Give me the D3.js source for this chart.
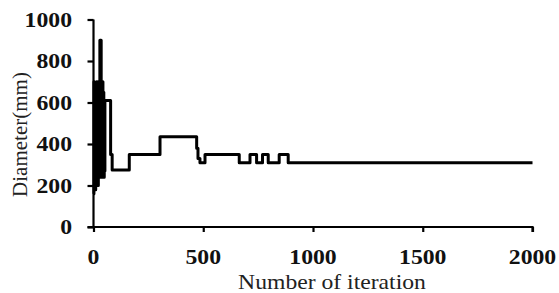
<!DOCTYPE html>
<html>
<head>
<meta charset="utf-8">
<script src="https://cdn.jsdelivr.net/npm/d3@7"></script>
<style>
  html, body { margin: 0; padding: 0; background: #fff; }
  svg { display: block; }
</style>
</head>
<body>
<svg id="chart" width="559" height="293"></svg>
<script>
// Data: iteration at which the diameter changes, and the diameter (mm) from there on
const iteration = [0, 2, 4, 6, 8, 10, 12, 14, 16, 18, 20, 22, 24, 26, 28, 29, 31, 33, 35, 37, 39, 41, 43, 45, 47, 49, 51, 52,
                   78, 85, 163, 303, 470, 476, 485, 508, 664, 713, 743, 770, 796, 846, 887, 2000];
const diameter  = [160, 700, 220, 690, 180, 640, 300, 700, 250, 560, 200, 700, 280, 620, 240, 900, 300, 900, 260, 680, 240, 700, 300, 650, 240, 560, 270, 610,
                   350, 275, 350, 435, 380, 330, 310, 350, 310, 350, 310, 350, 310, 350, 310, 310];
const xTicks = [0, 500, 1000, 1500, 2000];
const yTicks = [0, 200, 400, 600, 800, 1000];
const xTitle = "Number of iteration";
const yTitle = "Diameter(mm)";

const svg = d3.select("#chart");
const x = d3.scaleLinear().domain([0, 2000]).range([93.5, 532.5]);
const y = d3.scaleLinear().domain([0, 1000]).range([227, 19.5]);
const stretch = 1.13;
const tickFont = "'Liberation Serif', 'Times New Roman', serif";

// Y axis
const yAxis = svg.append("g").attr("transform", `translate(${x(0)},0)`)
  .call(d3.axisLeft(y).tickValues(yTicks).tickSize(6).tickFormat(""));
// X axis
const xAxis = svg.append("g").attr("transform", `translate(0,${y(0)})`)
  .call(d3.axisBottom(x).tickValues(xTicks).tickSize(5).tickFormat(""));
[yAxis, xAxis].forEach(g => {
  g.select(".domain").attr("stroke", "#000").attr("stroke-width", 2.2);
  g.selectAll(".tick line").attr("stroke", "#000").attr("stroke-width", 2.2);
});
xAxis.select(".domain").attr("d", `M${x(0)-6},0H${x(2000)}V5`);
yAxis.select(".domain").attr("d", `M0,${y(1000)}V${y(0)}`);

// Tick labels
svg.append("g").selectAll("text").data(yTicks).join("text")
  .attr("transform", d => `translate(72,${y(d) + 7}) scale(${stretch},1)`)
  .attr("text-anchor", "end")
  .attr("font-family", tickFont).attr("font-weight", "bold").attr("font-size", 21)
  .attr("fill", "#111")
  .text(d => d);
svg.append("g").selectAll("text").data(xTicks).join("text")
  .attr("transform", d => `translate(${x(d)},264) scale(${stretch},1)`)
  .attr("text-anchor", "middle")
  .attr("font-family", tickFont).attr("font-weight", "bold").attr("font-size", 21)
  .attr("fill", "#111")
  .text(d => d);

// Axis titles
svg.append("text")
  .attr("transform", `translate(332,289) scale(1.1,1)`)
  .attr("text-anchor", "middle")
  .attr("font-family", tickFont).attr("font-size", 21.5).attr("fill", "#222")
  .text(xTitle);
svg.append("text")
  .attr("transform", `translate(27,134.5) rotate(-90)`)
  .attr("text-anchor", "middle")
  .attr("font-family", tickFont).attr("font-size", 21).attr("fill", "#222")
  .text(yTitle);

// Series
const pts = iteration.map((it, i) => [it, diameter[i]]);
svg.append("path")
  .datum(pts)
  .attr("fill", "none")
  .attr("stroke", "#000")
  .attr("stroke-width", 3)
  .attr("stroke-linejoin", "round")
  .attr("d", d3.line().x(d => x(d[0])).y(d => y(d[1])).curve(d3.curveStepAfter));
</script>
</body>
</html>
